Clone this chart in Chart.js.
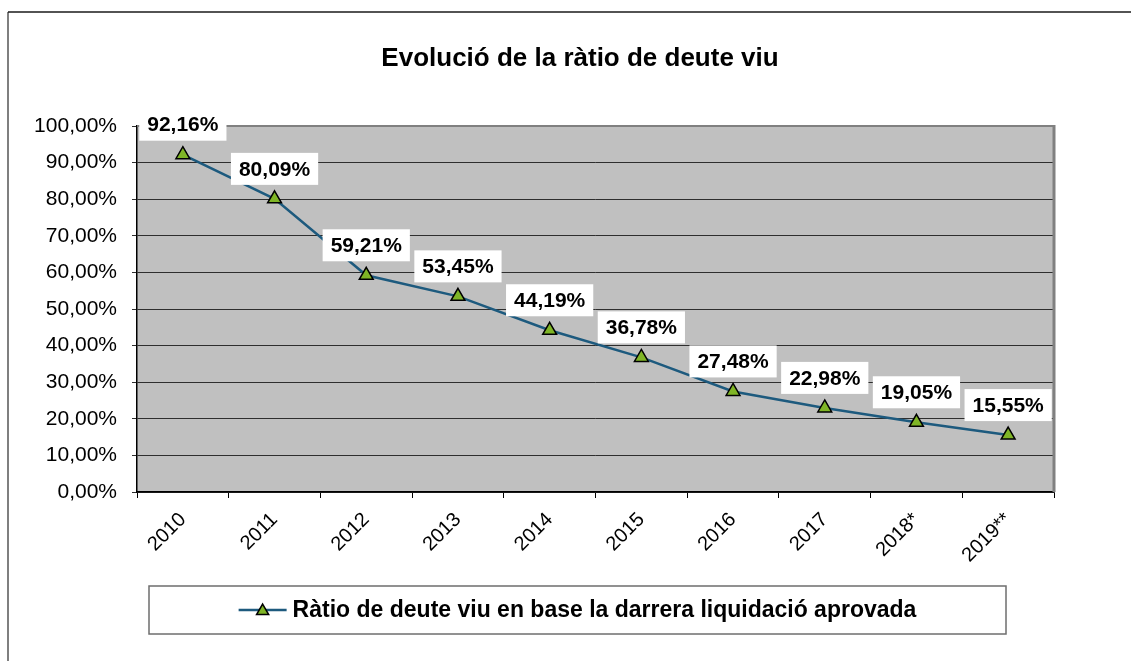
<!DOCTYPE html>
<html>
<head>
<meta charset="utf-8">
<script src="https://cdn.jsdelivr.net/npm/chart.js@4/dist/chart.umd.min.js"></script>
<style>
  body { margin: 0; background: #fff; }
  canvas { display: block; }
</style>
</head>
<body>
<canvas id="ratioChart" width="1131" height="661"></canvas>
<script>
// Dades del gràfic
const chartTitle = 'Evolució de la ràtio de deute viu';
const seriesLabel = 'Ràtio de deute viu en base la darrera liquidació aprovada';
const years = ['2010', '2011', '2012', '2013', '2014', '2015', '2016', '2017', '2018*', '2019**'];
const ratioValues = [92.16, 80.09, 59.21, 53.45, 44.19, 36.78, 27.48, 22.98, 19.05, 15.55];
const yMin = 0;
const yMax = 100;
const yStep = 10;

const FONT = "'Liberation Sans', Arial, sans-serif";
const LINE_COLOR = '#1d5a7e';
const MARKER_COLOR = '#7fb526';

function formatPct(v) {
    return v.toFixed(2).replace('.', ',') + '%';
}

function drawTriangle(ctx, x, y, r) {
    let rad = 0;
    ctx.beginPath();
    ctx.moveTo(x + Math.sin(rad) * r, y - Math.cos(rad) * r);
    rad += 2 * Math.PI / 3;
    ctx.lineTo(x + Math.sin(rad) * r, y - Math.cos(rad) * r);
    rad += 2 * Math.PI / 3;
    ctx.lineTo(x + Math.sin(rad) * r, y - Math.cos(rad) * r);
    ctx.closePath();
}

// Fons, marc i etiquetes a l'estil Excel
const excelFrame = {
    id: 'excelFrame',
    beforeDraw(chart) {
        const ctx = chart.ctx;
        const a = chart.chartArea;
        ctx.save();
        ctx.fillStyle = '#fff';
        ctx.fillRect(0, 0, chart.width, chart.height);
        // marc exterior
        ctx.strokeStyle = '#7f7f7f';
        ctx.lineWidth = 2;
        ctx.beginPath();
        ctx.moveTo(8, chart.height);
        ctx.lineTo(8, 12);
        ctx.stroke();
        ctx.strokeStyle = '#1a1a1a';
        ctx.lineWidth = 1.5;
        ctx.beginPath();
        ctx.moveTo(8, 12);
        ctx.lineTo(chart.width, 12);
        ctx.stroke();
        // àrea del gràfic
        ctx.fillStyle = '#c0c0c0';
        ctx.fillRect(a.left, a.top, a.right - a.left, a.bottom - a.top);
        ctx.restore();
    },
    beforeDatasetsDraw(chart) {
        const ctx = chart.ctx;
        const a = chart.chartArea;
        ctx.save();
        ctx.strokeStyle = '#808080';
        ctx.lineWidth = 2;
        ctx.beginPath();
        ctx.moveTo(a.left, a.top);
        ctx.lineTo(a.right, a.top);
        ctx.stroke();
        ctx.lineWidth = 3;
        ctx.beginPath();
        ctx.moveTo(a.right, a.top - 1);
        ctx.lineTo(a.right, a.bottom);
        ctx.stroke();
        ctx.restore();
    },
    afterDatasetsDraw(chart) {
        // etiquetes de dades amb fons blanc
        const ctx = chart.ctx;
        const meta = chart.getDatasetMeta(0);
        ctx.save();
        ctx.font = 'bold 21px ' + FONT;
        ctx.textAlign = 'center';
        ctx.textBaseline = 'middle';
        meta.data.forEach((pt, i) => {
            const txt = formatPct(chart.data.datasets[0].data[i]);
            const w = ctx.measureText(txt).width + 16;
            const h = 32;
            const cx = pt.x;
            const cy = pt.y - 30;
            ctx.fillStyle = '#fff';
            ctx.fillRect(cx - w / 2, cy - h / 2, w, h);
            ctx.fillStyle = '#000';
            ctx.fillText(txt, cx, cy + 1);
        });
        ctx.restore();
    },
    afterDraw(chart) {
        const ctx = chart.ctx;
        ctx.save();
        // títol
        ctx.fillStyle = '#000';
        ctx.font = 'bold 26px ' + FONT;
        ctx.textAlign = 'center';
        ctx.textBaseline = 'middle';
        ctx.fillText(chartTitle, 580, 59);

        // llegenda
        const bx = 149, by = 586, bw = 857, bh = 48;
        ctx.strokeStyle = '#6e6e6e';
        ctx.lineWidth = 1.5;
        ctx.strokeRect(bx, by, bw, bh);
        ctx.font = 'bold 23px ' + FONT;
        const tw = ctx.measureText(seriesLabel).width;
        const symW = 48;
        const total = symW + 6 + tw;
        const sx = bx + bw / 2 - total / 2;
        const cy = by + bh / 2;
        ctx.strokeStyle = LINE_COLOR;
        ctx.lineWidth = 2.5;
        ctx.beginPath();
        ctx.moveTo(sx, cy);
        ctx.lineTo(sx + symW, cy);
        ctx.stroke();
        ctx.fillStyle = MARKER_COLOR;
        ctx.strokeStyle = '#000';
        ctx.lineWidth = 1.5;
        drawTriangle(ctx, sx + symW / 2, cy + 1, 7);
        ctx.fill();
        ctx.stroke();
        ctx.fillStyle = '#000';
        ctx.textAlign = 'left';
        ctx.fillText(seriesLabel, sx + symW + 6, cy + 1);
        ctx.restore();
    }
};

const ctx = document.getElementById('ratioChart').getContext('2d');
const ratioChart = new Chart(ctx, {
    type: 'line',
    data: {
        labels: years,
        datasets: [{
            label: seriesLabel,
            data: ratioValues,
            borderColor: LINE_COLOR,
            borderWidth: 2.5,
            tension: 0,
            pointStyle: 'triangle',
            pointRadius: 8,
            pointBackgroundColor: MARKER_COLOR,
            pointBorderColor: '#000',
            pointBorderWidth: 1.5
        }]
    },
    options: {
        responsive: false,
        animation: false,
        layout: { padding: { left: 0, right: 77, top: 126, bottom: 0 } },
        plugins: {
            legend: { display: false },
            title: { display: false },
            tooltip: { enabled: false }
        },
        scales: {
            x: {
                offset: true,
                afterFit(scale) { scale.height = 169; },
                grid: {
                    offset: true,
                    drawOnChartArea: false,
                    drawTicks: true,
                    tickLength: 6,
                    color: '#000'
                },
                border: { display: true, color: '#000', width: 1.5 },
                ticks: {
                    color: '#000',
                    font: { family: FONT, size: 20 },
                    maxRotation: 45,
                    minRotation: 45,
                    padding: 10
                }
            },
            y: {
                min: yMin,
                max: yMax,
                afterFit(scale) { scale.width = 137; },
                grid: {
                    color: '#2e2e2e',
                    lineWidth: 1,
                    tickLength: 5
                },
                border: { display: true, color: '#000', width: 1.5 },
                ticks: {
                    stepSize: yStep,
                    color: '#000',
                    padding: 15,
                    font: { family: FONT, size: 21 },
                    callback: v => formatPct(v)
                }
            }
        }
    },
    plugins: [excelFrame]
});
</script>
</body>
</html>
